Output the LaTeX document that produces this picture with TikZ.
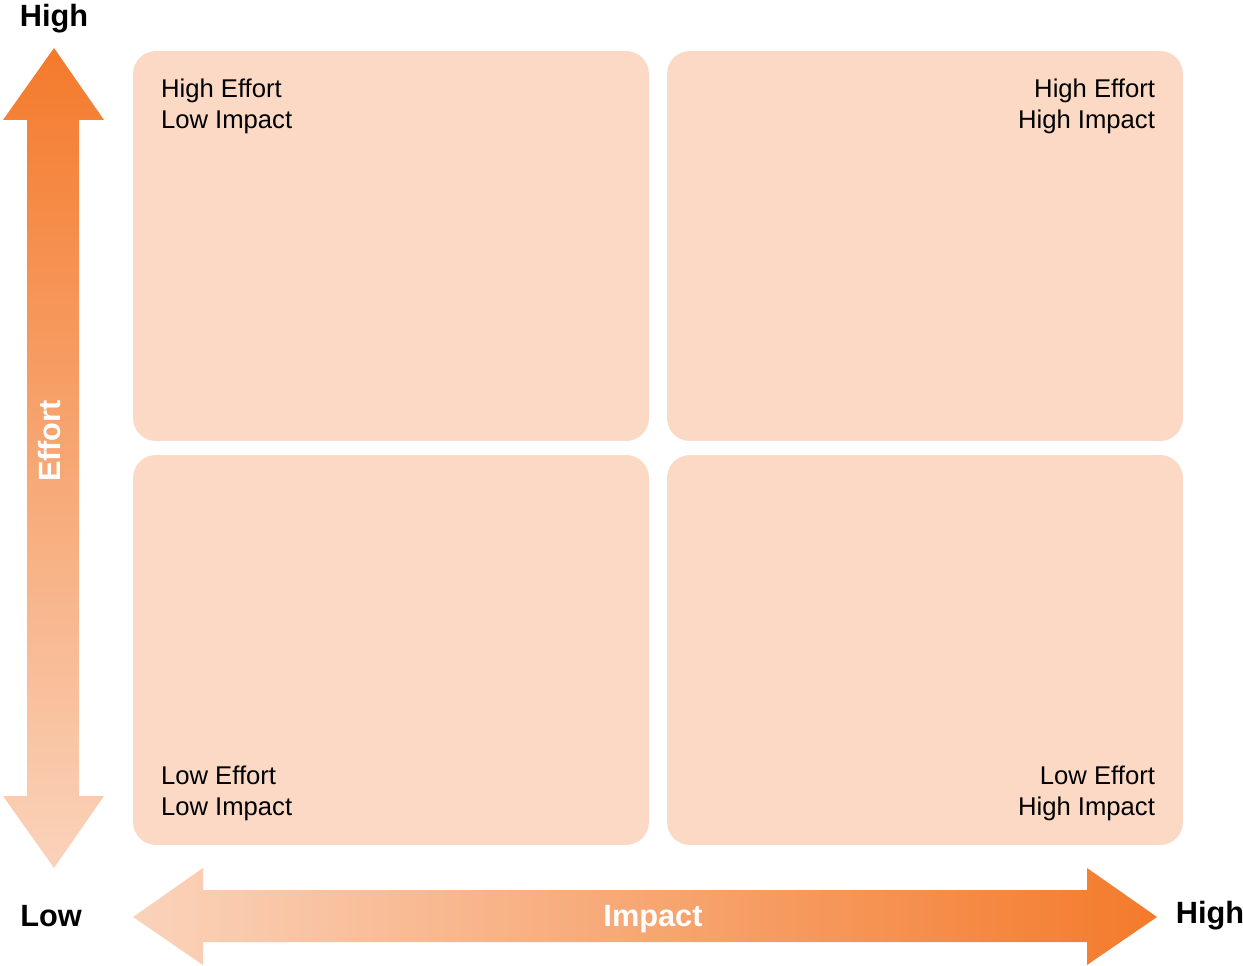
\documentclass[tikz,border=0pt]{standalone}
\usepackage{fontspec}
\setmainfont{Liberation Sans}
\definecolor{arrowdark}{HTML}{F47A2B}
\definecolor{arrowlight}{HTML}{FAD3BB}
\definecolor{boxfill}{HTML}{FBD9C5}
\tikzset{
    quadrant/.style={fill=boxfill,rounded corners=13pt,minimum width=10.32cm,minimum height=7.8cm},
    qlabel/.style={inner sep=0,font=\fontsize{14.6}{17.6}\selectfont},
    endlabel/.style={inner sep=0,font=\fontsize{17.5}{20}\selectfont\bfseries},
    axislabel/.style={inner sep=0,text=white,font=\fontsize{17.5}{20}\selectfont\bfseries}
}
\begin{document}
\begin{tikzpicture}[x=0.02cm,y=-0.02cm]
                \useasboundingbox (0,0) rectangle (1243,966);
                %% quadrants
                \node[quadrant] (tl) at (391,246) {};
                \node[quadrant] (tr) at (925,246) {};
                \node[quadrant] (bl) at (391,650) {};
                \node[quadrant] (br) at (925,650) {};
                %% quadrant labels
                \node[qlabel,align=left,anchor=north west] (tltext) at ([shift={(28,28)}]tl.north west) {High Effort\\Low Impact};
                \node[qlabel,align=right,anchor=north east] (trtext) at ([shift={(-28,28)}]tr.north east) {High Effort\\High Impact};
                \node[qlabel,align=left,anchor=south west] (bltext) at ([shift={(28,-24)}]bl.south west) {Low Effort\\Low Impact};
                \node[qlabel,align=right,anchor=south east] (brtext) at ([shift={(-28,-24)}]br.south east) {Low Effort\\High Impact};
                %% effort axis
                \shade[top color=arrowdark,bottom color=arrowlight] (54,48) -- (104,120) -- (79,120) -- (79,796) -- (104,796) -- (54,868) -- (3,796) -- (27,796) -- (27,120) -- (3,120) -- cycle;
                \node[axislabel,rotate=90,anchor=base] (effort) at (60,441) {Effort};
                %% impact axis
                \shade[left color=arrowlight,right color=arrowdark] (133,917) -- (203,868) -- (203,890) -- (1087,890) -- (1087,868) -- (1157,917) -- (1087,965) -- (1087,942) -- (203,942) -- (203,965) -- cycle;
                \node[axislabel,anchor=base] (impact) at (653,926) {Impact};
                %% ends
                \node[endlabel,anchor=base] (efforthigh) at (54,27) {High};
                \node[endlabel,anchor=base] (low) at (51,926) {Low};
                \node[endlabel,anchor=base] (impacthigh) at (1210,923) {High};
            \end{tikzpicture}
\end{document}
